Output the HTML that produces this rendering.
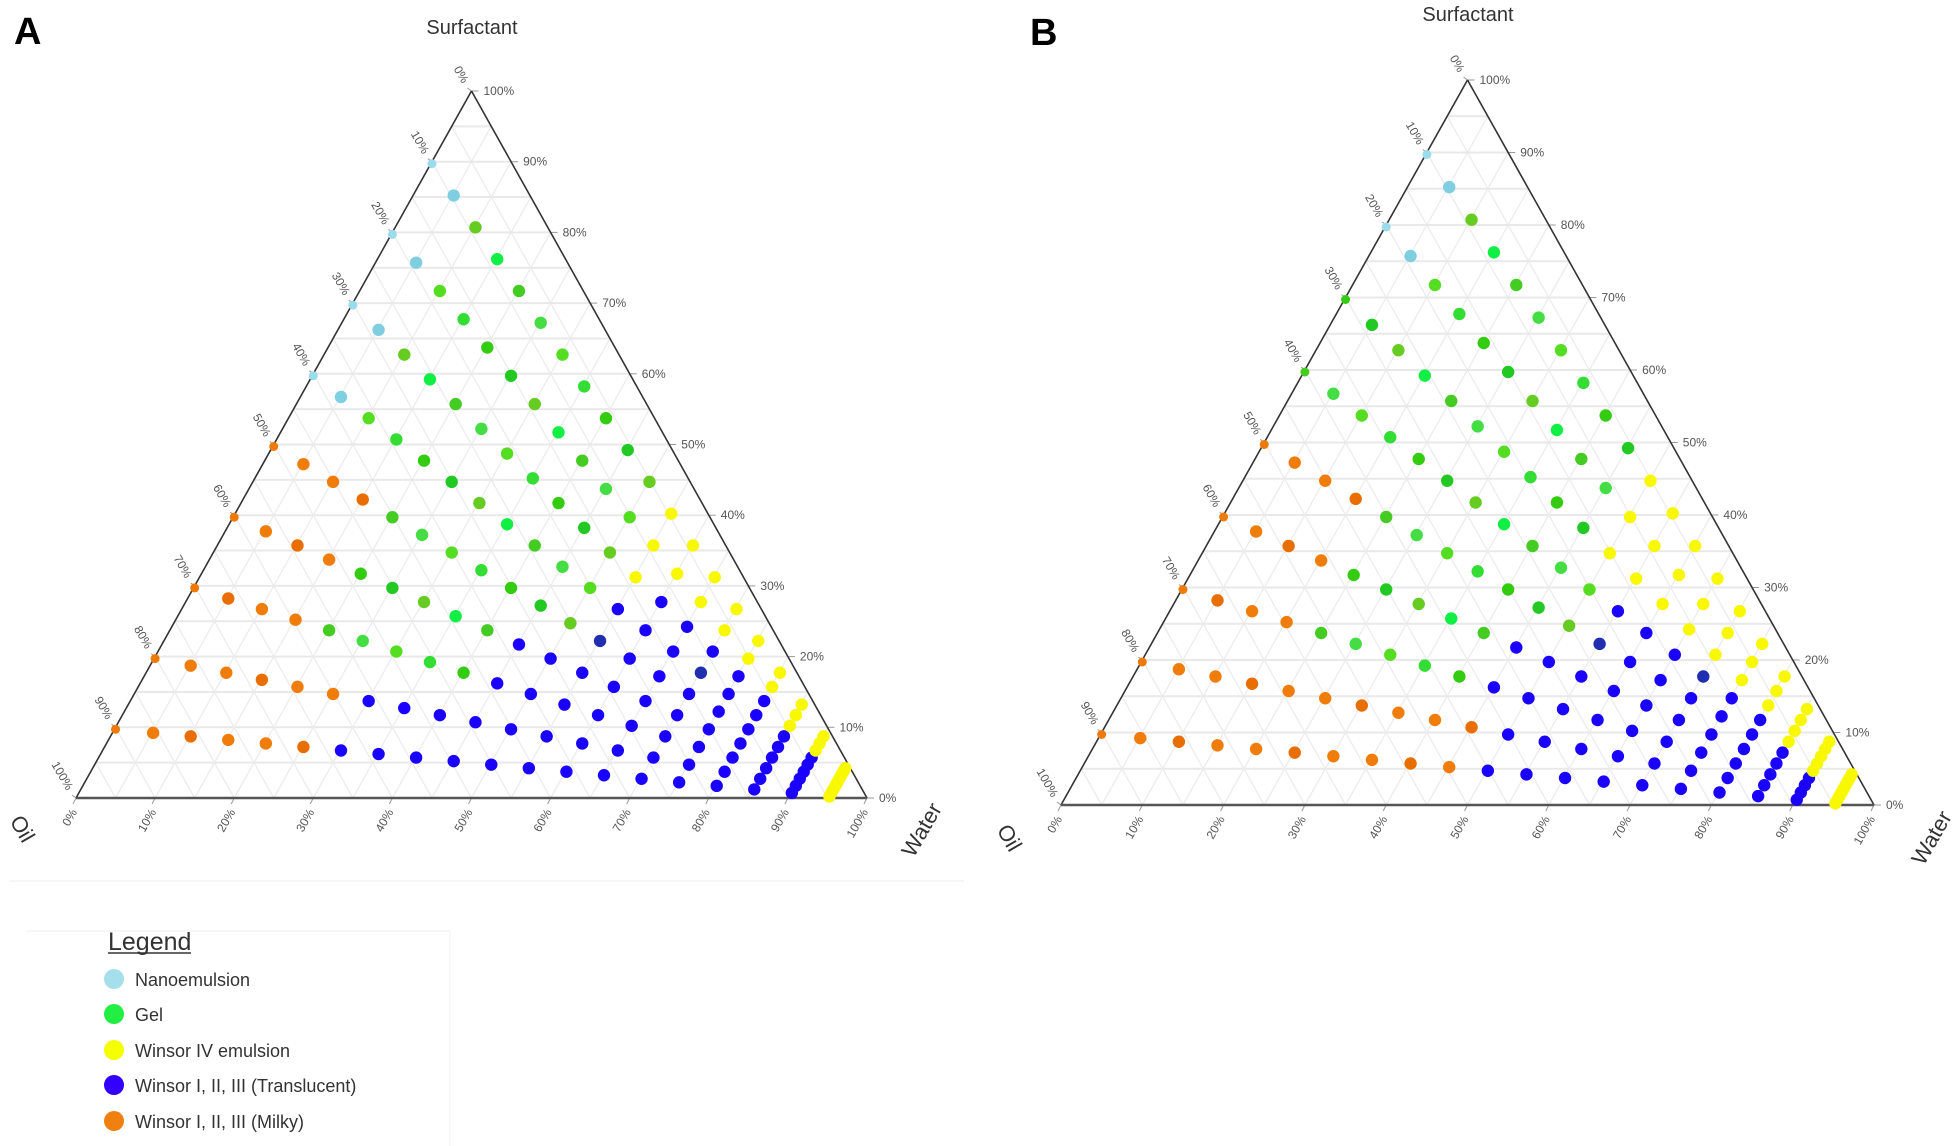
<!DOCTYPE html>
<html><head><meta charset="utf-8"><style>
html,body{margin:0;padding:0;background:#fff;}
svg{display:block;}
text{font-family:"Liberation Sans",Arial,sans-serif;}
.t{font-size:12px;fill:#555;}
</style></head><body>
<svg id="s" width="1955" height="1146" viewBox="0 0 1955 1146" xmlns="http://www.w3.org/2000/svg">
<rect width="1955" height="1146" fill="#fff"/>
<g id="gridA"></g><g id="gridB"></g>
<line x1="10" y1="881" x2="964" y2="881" stroke="#f3f3f3" stroke-width="1.5"/>
<line x1="27" y1="931" x2="450" y2="931" stroke="#f3f3f3" stroke-width="1.5"/>
<line x1="450" y1="931" x2="450" y2="1146" stroke="#f6f6f6" stroke-width="1.5"/>

<text x="14" y="44" font-size="38" font-weight="bold" fill="#000">A</text>
<text x="1030" y="45" font-size="38" font-weight="bold" fill="#000">B</text>
<text x="472" y="34" font-size="20" fill="#333" text-anchor="middle">Surfactant</text>
<text x="1468" y="21" font-size="20" fill="#333" text-anchor="middle">Surfactant</text>
<text x="922" y="837" font-size="22" fill="#333" text-anchor="middle" transform="rotate(-60 922 830)">Water</text>
<text x="1932" y="845" font-size="22" fill="#333" text-anchor="middle" transform="rotate(-60 1932 838)">Water</text>
<text x="22" y="836" font-size="22" fill="#333" text-anchor="middle" transform="rotate(60 22 829)">Oil</text>
<text x="1009" y="845" font-size="22" fill="#333" text-anchor="middle" transform="rotate(60 1009 838)">Oil</text>

<g class="t">
<text x="879" y="802">0%</text><text x="839.5" y="731.3">10%</text><text x="799.9" y="660.6">20%</text><text x="760.4" y="589.9">30%</text><text x="720.8" y="519.2">40%</text><text x="681.3" y="448.5">50%</text><text x="641.7" y="377.8">60%</text><text x="602.2" y="307.1">70%</text><text x="562.6" y="236.4">80%</text><text x="523.1" y="165.7">90%</text><text x="483.5" y="95">100%</text>
</g>
<g class="t" text-anchor="end">
<text x="465.5" y="86" transform="rotate(60 465.5 82)">0%</text>
<text x="426" y="156.7" transform="rotate(60 426 152.7)">10%</text>
<text x="386.4" y="227.4" transform="rotate(60 386.4 223.4)">20%</text>
<text x="346.9" y="298.1" transform="rotate(60 346.9 294.1)">30%</text>
<text x="307.3" y="368.8" transform="rotate(60 307.3 364.8)">40%</text>
<text x="267.8" y="439.5" transform="rotate(60 267.8 435.5)">50%</text>
<text x="228.2" y="510.2" transform="rotate(60 228.2 506.2)">60%</text>
<text x="188.7" y="580.9" transform="rotate(60 188.7 576.9)">70%</text>
<text x="149.1" y="651.6" transform="rotate(60 149.1 647.6)">80%</text>
<text x="109.6" y="722.3" transform="rotate(60 109.6 718.3)">90%</text>
<text x="70" y="793" transform="rotate(60 70 789)">100%</text>
</g>
<g class="t" text-anchor="end">
<text x="74" y="814" transform="rotate(-60 74 810)">0%</text>
<text x="153.1" y="814" transform="rotate(-60 153.1 810)">10%</text>
<text x="232.2" y="814" transform="rotate(-60 232.2 810)">20%</text>
<text x="311.3" y="814" transform="rotate(-60 311.3 810)">30%</text>
<text x="390.4" y="814" transform="rotate(-60 390.4 810)">40%</text>
<text x="469.5" y="814" transform="rotate(-60 469.5 810)">50%</text>
<text x="548.6" y="814" transform="rotate(-60 548.6 810)">60%</text>
<text x="627.7" y="814" transform="rotate(-60 627.7 810)">70%</text>
<text x="706.8" y="814" transform="rotate(-60 706.8 810)">80%</text>
<text x="785.9" y="814" transform="rotate(-60 785.9 810)">90%</text>
<text x="865" y="814" transform="rotate(-60 865 810)">100%</text>
</g>

<g class="t">
<text x="1886" y="809">0%</text><text x="1845.4" y="736.5">10%</text><text x="1804.7" y="664">20%</text><text x="1764.1" y="591.5">30%</text><text x="1723.4" y="519">40%</text><text x="1682.8" y="446.5">50%</text><text x="1642.1" y="374">60%</text><text x="1601.5" y="301.5">70%</text><text x="1560.8" y="229">80%</text><text x="1520.2" y="156.5">90%</text><text x="1479.5" y="84">100%</text>
</g>
<g class="t" text-anchor="end">
<text x="1461.5" y="75" transform="rotate(60 1461.5 71)">0%</text>
<text x="1420.9" y="147.5" transform="rotate(60 1420.9 143.5)">10%</text>
<text x="1380.2" y="220" transform="rotate(60 1380.2 216)">20%</text>
<text x="1339.6" y="292.5" transform="rotate(60 1339.6 288.5)">30%</text>
<text x="1298.9" y="365" transform="rotate(60 1298.9 361)">40%</text>
<text x="1258.3" y="437.5" transform="rotate(60 1258.3 433.5)">50%</text>
<text x="1217.6" y="510" transform="rotate(60 1217.6 506)">60%</text>
<text x="1177" y="582.5" transform="rotate(60 1177 578.5)">70%</text>
<text x="1136.3" y="655" transform="rotate(60 1136.3 651)">80%</text>
<text x="1095.7" y="727.5" transform="rotate(60 1095.7 723.5)">90%</text>
<text x="1055" y="800" transform="rotate(60 1055 796)">100%</text>
</g>
<g class="t" text-anchor="end">
<text x="1059" y="821" transform="rotate(-60 1059 817)">0%</text>
<text x="1140.3" y="821" transform="rotate(-60 1140.3 817)">10%</text>
<text x="1221.6" y="821" transform="rotate(-60 1221.6 817)">20%</text>
<text x="1302.9" y="821" transform="rotate(-60 1302.9 817)">30%</text>
<text x="1384.2" y="821" transform="rotate(-60 1384.2 817)">40%</text>
<text x="1465.5" y="821" transform="rotate(-60 1465.5 817)">50%</text>
<text x="1546.8" y="821" transform="rotate(-60 1546.8 817)">60%</text>
<text x="1628.1" y="821" transform="rotate(-60 1628.1 817)">70%</text>
<text x="1709.4" y="821" transform="rotate(-60 1709.4 817)">80%</text>
<text x="1790.7" y="821" transform="rotate(-60 1790.7 817)">90%</text>
<text x="1872" y="821" transform="rotate(-60 1872 817)">100%</text>
</g>

<g id="ptsA"></g><g id="ptsB"></g>

<text x="108" y="950" font-size="25" fill="#333">Legend</text>
<line x1="108" y1="953" x2="191" y2="953" stroke="#333" stroke-width="1.5"/>
<circle cx="114" cy="979" r="10" fill="#a6dfec"/>
<circle cx="114" cy="1014" r="10" fill="#22ee44"/>
<circle cx="114" cy="1050" r="10" fill="#f5ff00"/>
<circle cx="114" cy="1085" r="10" fill="#3300ff"/>
<circle cx="114" cy="1121" r="10" fill="#f08010"/>
<g font-size="18" fill="#333">
<text x="135" y="986">Nanoemulsion</text>
<text x="135" y="1021">Gel</text>
<text x="135" y="1057">Winsor IV emulsion</text>
<text x="135" y="1092">Winsor I, II, III (Translucent)</text>
<text x="135" y="1128">Winsor I, II, III (Milky)</text>
</g>
</svg>
<script>
(function(){
var NS="http://www.w3.org/2000/svg";
function el(p,n,a){var e=document.createElementNS(NS,n);for(var k in a)e.setAttribute(k,a[k]);p.appendChild(e);return e;}
function build(T,gid,pid,colorFn){
  var g=document.getElementById(gid),pg=document.getElementById(pid);
  function P(S,W,O){return [S*T.ax+W*T.rx+O*T.lx, S*T.ay+W*T.ry+O*T.ly];}
  for(var i=1;i<20;i++){var t=i/20;
    var a=P(t,0,1-t),b=P(t,1-t,0);
    el(g,"line",{x1:a[0],y1:a[1],x2:b[0],y2:b[1],stroke:"#e9e9e9","stroke-width":2});
    a=P(0,t,1-t);b=P(1-t,t,0);
    el(g,"line",{x1:a[0],y1:a[1],x2:b[0],y2:b[1],stroke:"#ececec","stroke-width":1.3});
    a=P(0,1-t,t);b=P(1-t,0,t);
    el(g,"line",{x1:a[0],y1:a[1],x2:b[0],y2:b[1],stroke:"#ececec","stroke-width":1.3});
  }
  for(var k=0;k<=10;k++){var t=k/10;
    var a=P(t,1-t,0);el(g,"line",{x1:a[0],y1:a[1],x2:a[0]+7,y2:a[1],stroke:"#999","stroke-width":1});
    a=P(1-t,0,t);el(g,"line",{x1:a[0],y1:a[1],x2:a[0]-4,y2:a[1]-3,stroke:"#999","stroke-width":1});
    a=P(0,t,1-t);el(g,"line",{x1:a[0],y1:a[1],x2:a[0]-3,y2:a[1]+6,stroke:"#999","stroke-width":1});
  }
  el(g,"line",{x1:T.lx,y1:T.ly,x2:T.ax,y2:T.ay,stroke:"#333","stroke-width":1.6});
  el(g,"line",{x1:T.rx,y1:T.ry,x2:T.ax,y2:T.ay,stroke:"#333","stroke-width":1.6});
  el(g,"line",{x1:T.lx,y1:T.ly,x2:T.rx,y2:T.ry,stroke:"#555","stroke-width":2.5});
  var greens=["#33dd33","#44cc22","#22c922","#55dd22","#11ee44","#33cc11","#44dd44","#66cc22"];
  var blues=["#1a00ff","#1a00ff","#2200f5","#4a00e8","#1a00ff","#2a10ee","#0a10ff"];
  var n=0;
  for(var ri=1;ri<=9;ri++){var r=ri/10;
    for(var wi=0;wi<20;wi++){var w=wi/20;n++;
      var c=colorFn(ri,wi);var col;
      if(c=="lb")col=(wi==0?"#9adcec":"#7fcfe0");
      else if(c=="o")col=(wi==0?"#f07a08":(n%3==0?"#e86e00":"#f07d0a"));
      else if(c=="y")col="#f8f800";
      else if(c=="b"){col=blues[(n*7)%blues.length];if(n%23==0)col="#1f2fb0";}
      else col=greens[(n*5)%greens.length];
      var p=P((1-w)*r,w,(1-w)*(1-r));
      el(pg,"circle",{cx:p[0],cy:p[1]+2,r:(wi==0?4.5:6.2),fill:col});
    }
  }
}
function cA(ri,wi){
  if(wi==19)return "y";
  if(ri>=6&&wi<=1)return "lb";
  if(ri<=2){return wi<=5?"o":"b";}
  if(ri<=5&&wi<=3)return "o";
  if(ri>=8&&wi>=11)return "y";
  if(ri==7&&(wi==11||wi>=17))return "y";
  if(wi==18&&ri>=7)return "y";
  if((ri==3||ri==4)&&wi>=9)return "b";
  if((ri==5||ri==6)&&wi>=11)return "b";
  if(ri==7&&wi>=12)return "b";
  return "g";
}
function cB(ri,wi){
  if(wi==19)return "y";
  if(ri>=8&&wi<=1)return "lb";
  if(ri<=2){return wi<=9?"o":"b";}
  if(ri<=5&&wi<=3)return "o";
  if(ri>=7&&wi>=10)return "y";
  if(ri==6&&wi>=17)return "y";
  if(ri==5&&wi==18)return "y";
  if((ri==3||ri==4)&&wi>=9)return "b";
  if((ri==5||ri==6)&&wi>=11)return "b";
  return "g";
}
build({ax:471.5,ay:91,lx:76,ly:798,rx:867,ry:798},"gridA","ptsA",cA);
build({ax:1467.5,ay:80,lx:1061,ly:805,rx:1874,ry:805},"gridB","ptsB",cB);
})();
</script>
</body></html>
